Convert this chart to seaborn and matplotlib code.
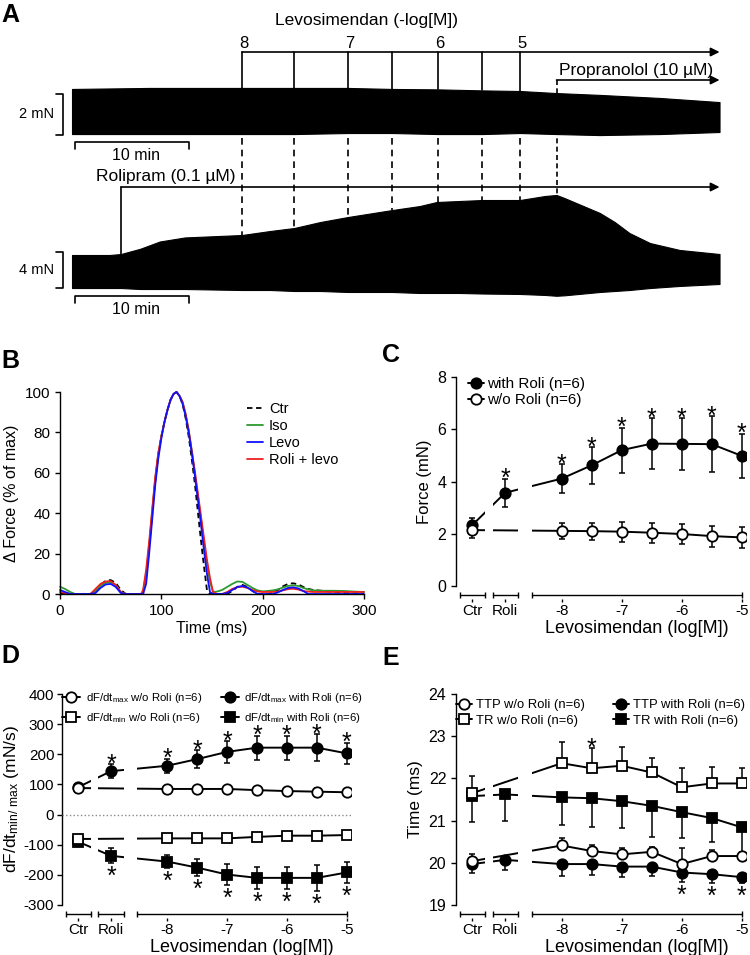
import numpy as np
import matplotlib
matplotlib.use("Agg")
import matplotlib.pyplot as plt
import seaborn as sns

sns.set_style("ticks")
plt.rcParams["font.family"] = ["Liberation Sans", "DejaVu Sans"]
plt.rcParams["axes.unicode_minus"] = False
plt.rcParams["mathtext.default"] = "regular"
plt.rcParams["axes.edgecolor"] = "k"
plt.rcParams["axes.linewidth"] = 1.0
plt.rcParams["xtick.color"] = "k"
plt.rcParams["ytick.color"] = "k"
plt.rcParams["text.color"] = "k"
plt.rcParams["axes.labelcolor"] = "k"
plt.rcParams["xtick.major.size"] = 3.5
plt.rcParams["ytick.major.size"] = 3.5
plt.rcParams["xtick.major.width"] = 1.0
plt.rcParams["ytick.major.width"] = 1.0

# ---------------- panel A: original traces (envelopes) ----------------
levo_neglog = [8, 7.5, 7, 6.5, 6, 5.5, 5]
levo_time = [14.9, 19.5, 24.2, 28.1, 32.1, 36.0, 39.3]     # min
roli_time = 4.3
prop_time = 42.5
trace_end = 56.8

top_t = [0, 6.8, 14.9, 19.5, 24.2, 28.1, 32.1, 36.0, 39.3, 42.5, 46.3, 51.6, 56.8]
top_peak = [2.49, 2.54, 2.54, 2.54, 2.54, 2.49, 2.47, 2.42, 2.39, 2.29, 2.20, 2.05, 1.85]
top_rest = [0.29, 0.29, 0.29, 0.29, 0.34, 0.34, 0.29, 0.29, 0.34, 0.29, 0.24, 0.29, 0.39]

bot_t = [0, 3.3, 4.3, 6.0, 7.7, 9.9, 14.9, 17.4, 19.5, 21.8, 24.2, 28.1, 30.5, 32.0,
         34.0, 36.0, 39.3, 41.5, 42.5, 43.2, 46.3, 47.6, 48.9, 50.7, 53.3, 56.8]
bot_peak = [5.0, 5.0, 5.11, 5.7, 6.5, 6.95, 7.22, 7.67, 8.0, 8.67, 9.22, 10.0, 10.44, 10.89,
            11.0, 11.11, 11.11, 11.56, 11.67, 11.33, 9.67, 8.67, 7.44, 6.33, 5.56, 5.11]
bot_rest = [1.33, 1.33, 1.33, 1.22, 1.22, 1.22, 1.11, 1.11, 1.0, 1.0, 0.89, 0.89, 0.78, 0.78,
            0.78, 0.72, 0.67, 0.56, 0.47, 0.52, 0.89, 1.0, 1.11, 1.33, 1.56, 1.78]

# ---------------- panel B: normalised twitches ----------------
t_b = [0, 5, 10, 15, 20, 30, 35, 40, 45, 50, 55, 60, 65, 80, 82,
       85, 88, 91, 94, 97, 100, 103, 106, 109, 112, 115, 118, 121, 124, 127, 130, 133, 136, 139, 142, 145, 148, 151,
       155, 160, 165, 170, 175, 180, 185, 190, 195, 200, 205, 210, 215, 220, 225, 230, 235, 240, 245, 250,
       260, 270, 280, 290, 300]
ctr_b = [0.5, 0, 0, 0, 0, 0, 1.5, 4.5, 6.5, 6.9, 5.5, 2, 0, 0, 0,
         8, 23, 40, 56, 69, 78, 85, 91, 96, 99, 100, 98, 94, 87, 78, 67, 55, 41, 27, 14, 2, 0, 0,
         0, 0, 0, 1.5, 3.5, 4.5, 3.5, 1.5, 0, 0, 0, 0.5, 2, 3.8, 5, 5.3, 4.8, 3.5, 2.5, 2,
         1.5, 1, 0.5, 0.3, 0]
iso_b = [3.6, 2.5, 1, 0, 0, 0, 1.5, 4, 5.5, 5.8, 4.5, 1, 0, 0, 1,
         10, 24, 41, 57, 69, 78, 85, 91, 96, 99, 100, 98, 95, 89, 81, 71, 60, 49, 38, 26, 15, 6, 1,
         1.2, 2, 3.5, 5, 6.2, 6, 4.5, 3, 1.8, 1.3, 1.5, 1.8, 2.3, 3.2, 4, 4.3, 4, 3, 2.3, 1.8,
         1.6, 1.6, 1.5, 1.2, 1]
levo_b = [2, 1, 0, 0, 0, 0, 0.5, 3, 4.7, 5.0, 3.5, 0.5, 0, 0, 0,
          5, 20, 37, 54, 67, 77, 85, 91, 96, 99, 100, 98, 94, 88, 80, 70, 59, 47, 35, 22, 10, 1, 0,
          0, 0, 0.5, 2, 3.5, 4, 3.2, 1.5, 0, 0, 0, 0, 0.8, 2, 3, 3.3, 2.8, 1.5, 0, 0,
          0, 0, 0, 0, 0]
rolilevo_b = [1, 0.5, 0, 0, 0, 0, 2.5, 5, 6.2, 6.4, 4.5, 1, 0, 0, 2,
              12, 26, 42, 58, 70, 78, 85, 91, 96, 99, 100, 98, 95, 89, 81, 71, 61, 50, 39, 28, 17, 8, 1,
              0, 0, 1, 2.5, 3.4, 3.6, 3, 2, 1.2, 1, 1, 1, 1.2, 1.8, 2.4, 2.6, 2.2, 1.5, 1.2, 1,
              1, 1, 1, 1, 1]

# ---------------- panels C-E: concentration-response ----------------
levo_log = [-8, -7.5, -7, -6.5, -6, -5.5, -5]

C_with = [2.33, 3.57, 4.11, 4.62, 5.20, 5.45, 5.44, 5.43, 4.98]
C_with_sem = [0.28, 0.54, 0.55, 0.70, 0.86, 0.99, 1.00, 1.08, 0.85]
C_with_sig = [0, 1, 1, 1, 1, 1, 1, 1, 1]
C_without = [2.14, 2.11, 2.10, 2.08, 2.04, 1.99, 1.91, 1.86]
C_without_sem = [0.30, 0.32, 0.33, 0.38, 0.38, 0.40, 0.40, 0.40]

D_max_with = [91, 144, 162, 184, 208, 222, 222, 222, 203]
D_max_with_sem = [9, 24, 24, 30, 37, 40, 40, 44, 36]
D_max_without = [88, 85, 85, 85, 81, 78, 76, 74]
D_max_without_sem = [11, 10, 10, 11, 12, 11, 11, 10]
D_min_with = [-90, -137, -156, -176, -199, -210, -210, -210, -192]
D_min_with_sem = [8, 25, 22, 28, 34, 37, 37, 42, 36]
D_min_without = [-81, -79, -79, -79, -74, -70, -70, -68]
D_min_without_sem = [9, 10, 10, 10, 11, 10, 11, 11]
D_with_sig = [0, 1, 1, 1, 1, 1, 1, 1, 1]

E_tr_without = [21.65, 22.36, 22.24, 22.30, 22.14, 21.79, 21.88, 21.88]
E_tr_without_sem = [0.41, 0.50, 0.47, 0.45, 0.34, 0.46, 0.38, 0.37]
E_tr_without_sig = [0, 0, 1, 0, 0, 0, 0, 0]
E_tr_with = [21.58, 21.62, 21.55, 21.53, 21.46, 21.35, 21.20, 21.06, 20.84]
E_tr_with_sem = [0.61, 0.62, 0.65, 0.67, 0.63, 0.73, 0.61, 0.56, 0.68]
E_ttp_without = [20.04, 20.41, 20.28, 20.20, 20.26, 19.97, 20.16, 20.16]
E_ttp_without_sem = [0.18, 0.17, 0.14, 0.14, 0.12, 0.38, 0.14, 0.10]
E_ttp_with = [19.97, 20.07, 19.97, 19.97, 19.91, 19.91, 19.77, 19.73, 19.66]
E_ttp_with_sem = [0.22, 0.24, 0.28, 0.27, 0.24, 0.22, 0.22, 0.22, 0.15]
E_ttp_with_sig = [0, 0, 0, 0, 0, 0, 1, 1, 1]

# ---------------- layout ----------------
W, H = 750, 955
fig = plt.figure(figsize=(W / 100, H / 100), dpi=100)


def px_axes(l, t, r, b):
    return fig.add_axes([l / W, 1 - b / H, (r - l) / W, (b - t) / H])


# ---- panel A ----
MIN_PX, T0_PX = 11.4, 72
TOP_BASE, TOP_SCALE = 140, 20.5
BOT_BASE, BOT_SCALE = 300, 9.0
axA = px_axes(0, 0, 750, 340)
axA.set_xlim(-T0_PX / MIN_PX, (W - T0_PX) / MIN_PX)
axA.set_ylim(340, 0)
axA.axis("off")

top_hi = TOP_BASE - np.array(top_peak) * TOP_SCALE
top_lo = TOP_BASE - np.array(top_rest) * TOP_SCALE
bot_hi = BOT_BASE - np.array(bot_peak) * BOT_SCALE
bot_lo = BOT_BASE - np.array(bot_rest) * BOT_SCALE
axA.fill_between(top_t, top_lo, top_hi, color="k", lw=0.8, zorder=3)
axA.fill_between(bot_t, bot_lo, bot_hi, color="k", lw=0.8, zorder=3)

lw_a = 1.2
arrow_kw = dict(arrowstyle="-|>", color="k", lw=lw_a, mutation_scale=13, shrinkA=0, shrinkB=0)
axA.annotate("", xy=(trace_end, 52), xytext=(levo_time[0], 52), arrowprops=arrow_kw)
axA.annotate("", xy=(trace_end, 80), xytext=(prop_time, 80), arrowprops=arrow_kw)
axA.annotate("", xy=(trace_end, 187), xytext=(roli_time, 187), arrowprops=arrow_kw)
for t, c in zip(levo_time, levo_neglog):
    axA.plot([t, t], [52, np.interp(t, top_t, top_hi)], color="k", lw=lw_a)
    axA.plot([t, t], [138, np.interp(t, bot_t, bot_hi)], color="k", lw=lw_a, ls=(0, (4, 3)))
    if float(c).is_integer():
        axA.text(t + 0.2, 43, f"{int(c)}", ha="center", va="center", fontsize=12)
axA.plot([prop_time, prop_time], [80, np.interp(prop_time, bot_t, bot_hi)], color="k", lw=lw_a,
         ls=(0, (3, 2)), zorder=1)
axA.plot([roli_time, roli_time], [187, np.interp(roli_time, bot_t, bot_hi)], color="k", lw=lw_a)
axA.text(25.8, 20, "Levosimendan (-log[M])", ha="center", va="center", fontsize=12.5)
axA.text(prop_time + 0.2, 70, "Propranolol (10 µM)", ha="left", va="center", fontsize=12.5)
axA.text(2.1, 177, "Rolipram (0.1 µM)", ha="left", va="center", fontsize=12.5)

# scale bars
for base, scale, amp, label, bar_row in [(135, TOP_SCALE, 2, "2 mN", 142), (288, BOT_SCALE, 4, "4 mN", 296)]:
    xb = -0.8
    top = base - amp * scale
    axA.plot([xb - 0.6, xb, xb, xb - 0.6], [top, top, base, base], color="k", lw=lw_a)
    axA.text(xb - 0.8, (top + base) / 2, label, ha="right", va="center", fontsize=10.5)
    axA.plot([0.3, 0.3, 10.3, 10.3], [bar_row + 7, bar_row, bar_row, bar_row + 7], color="k", lw=lw_a)
    axA.text(5.6, bar_row + 13, "10 min", ha="center", va="center", fontsize=11.5)

# ---- panel B ----
axB = px_axes(60, 392, 364, 594)
for y, lab, col, ls in [(ctr_b, "Ctr", "k", (0, (3, 2))), (iso_b, "Iso", "#2f9a2f", "-"),
                        (rolilevo_b, "Roli + levo", "#ee2020", "-"), (levo_b, "Levo", "#1010ff", "-")]:
    sns.lineplot(x=t_b, y=y, ax=axB, color=col, lw=1.3, linestyle=ls, label=lab, legend=False,
                 clip_on=False)
axB.set_xlim(0, 300)
axB.set_ylim(0, 100)
axB.set_xticks([0, 100, 200, 300])
axB.set_yticks([0, 20, 40, 60, 80, 100])
axB.tick_params(labelsize=11)
axB.set_xlabel("Time (ms)", fontsize=11.5, labelpad=2)
axB.set_ylabel("Δ Force (% of max)", fontsize=11.5)
sns.despine(ax=axB)
hb = {l.get_label(): l for l in axB.lines}
axB.legend(handles=[hb["Ctr"], hb["Iso"], hb["Levo"], hb["Roli + levo"]], loc="upper left",
           bbox_to_anchor=(0.615, 0.95), fontsize=10.5, frameon=False, handlelength=1.1,
           handletextpad=0.4, labelspacing=0.2, borderaxespad=0, borderpad=0)

# ---- panels C-E helpers ----
CTR_X, ROLI_X = -9.49, -8.94
X_WITH = [CTR_X, ROLI_X] + levo_log
X_WITHOUT = [CTR_X] + levo_log
SEGMENTS = [(-9.70, -9.27), (-9.15, -8.73), (-8.5, -5.0)]
GAPS = [(-9.27, -9.15), (-8.73, -8.5)]
XLIM = (-9.76, -4.93)


def dose_axes(ax, ylim, yticks, ylabel, ylabel_size, ylabel_right_px=None, ytick_size=11.5, ytick_pad=3.5):
    ax.set_xlim(*XLIM)
    ax.set_ylim(*ylim)
    ax.set_yticks(yticks)
    sns.despine(ax=ax)
    ax.spines["bottom"].set_position(("outward", 9))
    ax.spines["bottom"].set_visible(False)
    ax.set_xticks([CTR_X, ROLI_X, -8, -7, -6, -5], ["Ctr", "Roli", "-8", "-7", "-6", "-5"])
    ax.tick_params(axis="x", labelsize=11, length=2.5, pad=1.5)
    ax.tick_params(axis="y", labelsize=ytick_size, pad=ytick_pad)
    levo_mid = (np.mean(SEGMENTS[2]) - XLIM[0]) / (XLIM[1] - XLIM[0])
    ax.set_xlabel("Levosimendan (log[M])", fontsize=13, labelpad=1.5, x=levo_mid)
    ax.set_ylabel(ylabel, fontsize=ylabel_size)
    if ylabel_right_px is not None:
        pos = ax.get_position()
        ax.yaxis.set_label_coords((ylabel_right_px / W - pos.x0) / pos.width, 0.5)
    yb = -9 / (ax.get_position().height * H)
    for a, b in SEGMENTS:
        ax.plot([a, b], [yb, yb], transform=ax.get_xaxis_transform(), clip_on=False, color="k",
                lw=1.0, marker="|", ms=5, mew=1.0)
    for a, b in GAPS:
        ax.axvspan(a, b, color="white", lw=0, zorder=2.5)


def series(ax, xs, ys, lo, hi, marker, filled, label, ms=7.5):
    ax.errorbar(xs, ys, yerr=[lo, hi], fmt="none", ecolor="k", elinewidth=1.1, capsize=2.5, capthick=1.1)
    sns.lineplot(x=xs, y=ys, ax=ax, color="k", lw=1.4, marker=marker, markersize=ms,
                 markerfacecolor="k" if filled else "white", markeredgecolor="k", markeredgewidth=1.3,
                 label=label, legend=False)
    return ax.lines[-1]


def stars(ax, xs, ys, errs, sig, above):
    for x, y, e, s in zip(xs, ys, errs, sig):
        if s:
            if above:
                ax.annotate("*", xy=(x, y + e), xytext=(0, -5.5), textcoords="offset points",
                            ha="center", va="baseline", fontsize=18)
            else:
                ax.annotate("*", xy=(x, y - e), xytext=(0, -15), textcoords="offset points",
                            ha="center", va="baseline", fontsize=18)


zero = [0] * 9

# ---- panel C ----
axC = px_axes(456, 377, 746, 586)
dose_axes(axC, (0, 8), [0, 2, 4, 6, 8], "Force (mN)", 12)
hC1 = series(axC, X_WITH, C_with, C_with_sem, C_with_sem, "o", True, "with Roli (n=6)")
hC2 = series(axC, X_WITHOUT, C_without, C_without_sem, C_without_sem, "o", False, "w/o Roli (n=6)")
stars(axC, X_WITH, C_with, C_with_sem, C_with_sig, True)
axC.legend(handles=[hC1, hC2], loc="upper left", bbox_to_anchor=(0.04, 1.0), fontsize=11,
           frameon=False, handlelength=1.1, handletextpad=0.2, labelspacing=0.15, borderaxespad=0,
           borderpad=0)

# ---- panel D ----
axD = px_axes(62, 694, 351, 905)
dose_axes(axD, (-300, 400), list(range(-300, 401, 100)), r"dF/dt$_{min/\ max}$ (mN/s)", 12.5,
          ylabel_right_px=21, ytick_size=11, ytick_pad=2)
axD.axhline(0, color="#888888", lw=1.0, ls=":", zorder=3)
hD3 = series(axD, X_WITH, D_max_with, D_max_with_sem, D_max_with_sem, "o", True,
             r"dF/dt$_{max}$ with Roli (n=6)")
hD4 = series(axD, X_WITH, D_min_with, D_min_with_sem, D_min_with_sem, "s", True,
             r"dF/dt$_{min}$ with Roli (n=6)", ms=7)
hD1 = series(axD, X_WITHOUT, D_max_without, D_max_without_sem, D_max_without_sem, "o", False,
             r"dF/dt$_{max}$ w/o Roli (n=6)")
hD2 = series(axD, X_WITHOUT, D_min_without, D_min_without_sem, D_min_without_sem, "s", False,
             r"dF/dt$_{min}$ w/o Roli (n=6)", ms=7)
stars(axD, X_WITH, D_max_with, D_max_with_sem, D_with_sig, True)
stars(axD, X_WITH, D_min_with, D_min_with_sem, D_with_sig, False)
axD.legend(handles=[hD1, hD2, hD3, hD4], ncol=2, loc="upper left", bbox_to_anchor=(0.0, 1.015),
           fontsize=8.2, frameon=False, handlelength=1.6, handletextpad=0.5, columnspacing=1.6,
           labelspacing=0.5, borderaxespad=0, borderpad=0)

# ---- panel E ----
axE = px_axes(456, 694, 746, 905)
dose_axes(axE, (19, 24), [19, 20, 21, 22, 23, 24], "Time (ms)", 12.5)
hE3 = series(axE, X_WITH, E_ttp_with, E_ttp_with_sem, zero, "o", True, "TTP with Roli (n=6)")
hE4 = series(axE, X_WITH, E_tr_with, E_tr_with_sem, zero, "s", True, "TR with Roli (n=6)", ms=7)
hE1 = series(axE, X_WITHOUT, E_ttp_without, zero[:8], E_ttp_without_sem, "o", False, "TTP w/o Roli (n=6)")
hE2 = series(axE, X_WITHOUT, E_tr_without, zero[:8], E_tr_without_sem, "s", False, "TR w/o Roli (n=6)",
             ms=7)
stars(axE, X_WITHOUT, E_tr_without, E_tr_without_sem, E_tr_without_sig, True)
stars(axE, X_WITH, E_ttp_with, E_ttp_with_sem, E_ttp_with_sig, False)
axE.legend(handles=[hE1, hE2, hE3, hE4], ncol=2, loc="upper left", bbox_to_anchor=(0.0, 0.975),
           fontsize=9.4, frameon=False, handlelength=1.2, handletextpad=0.3, columnspacing=2.2,
           labelspacing=0.25, borderaxespad=0, borderpad=0)

# panel letters
for lab, x, base in [("A", 1, 22), ("B", 1, 368), ("C", 382, 362), ("D", 1, 663), ("E", 382, 665)]:
    fig.text(x / W, 1 - base / H, lab, fontsize=18, fontweight="bold", va="baseline", ha="left")

fig.savefig("out.png", dpi=100)
